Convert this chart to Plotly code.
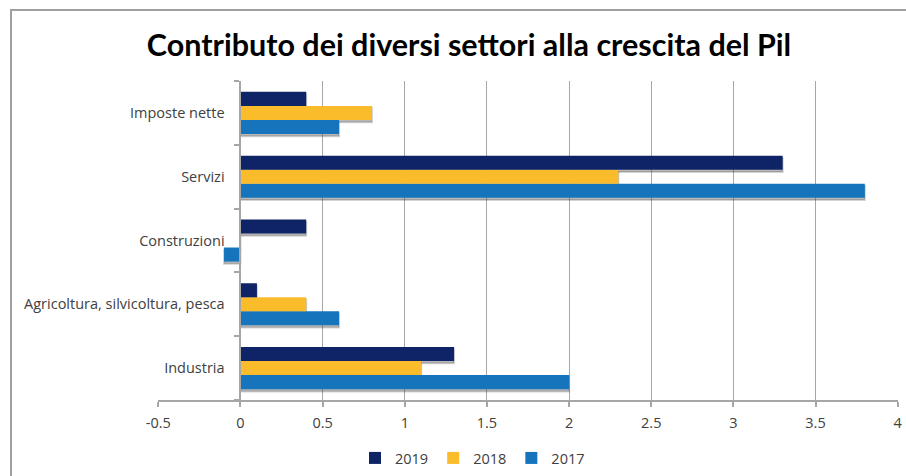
import plotly.graph_objects as go

# =========================
# DATA
# =========================
CATEGORIES = [
    "Industria",
    "Agricoltura, silvicoltura, pesca",
    "Construzioni",
    "Servizi",
    "Imposte nette",
]

YEARS = ["2017", "2018", "2019"]

VAL_2017 = [2.0, 0.6, -0.1, 3.8, 0.6]
VAL_2018 = [1.1, 0.4, 0.0, 2.3, 0.8]
VAL_2019 = [1.3, 0.1, 0.4, 3.3, 0.4]

X_TICKS = [-0.5, 0, 0.5, 1, 1.5, 2, 2.5, 3, 3.5, 4]
X_TICK_TEXT = ["-0.5", "0", "0.5", "1", "1.5", "2", "2.5", "3", "3.5", "4"]

COLORS = {"2019": "#0f2466", "2018": "#fbbc2b", "2017": "#1574bb"}

# posizione delle barre dentro ogni categoria (dal basso verso l'alto)
BAR_W = 0.22
OFFSETS = {"2017": -0.33, "2018": -0.11, "2019": 0.11}

FONT = "'Open Sans', sans-serif"
TITLE_FONT = "Lato, sans-serif"
GRID = "#a6a6a6"

SERIES = list(zip(YEARS, [VAL_2017, VAL_2018, VAL_2019]))

W, H = 906, 476
ML, MR, MT, MB = 158, 8, 81, 76

# =========================
# FIGURE
# =========================
fig = go.Figure()

# ombre delle barre
for year, vals in SERIES:
    fig.add_trace(go.Bar(
        y=CATEGORIES,
        x=vals,
        orientation="h",
        width=BAR_W,
        offset=OFFSETS[year] - 0.035,
        marker=dict(color="rgba(80,80,80,0.4)",
                    line=dict(width=2, color="rgba(80,80,80,0.25)")),
        showlegend=False,
        hoverinfo="skip",
    ))

for year, vals in SERIES:
    fig.add_trace(go.Bar(
        y=CATEGORIES,
        x=vals,
        name=year,
        orientation="h",
        width=BAR_W,
        offset=OFFSETS[year],
        marker=dict(color=COLORS[year], line=dict(width=0)),
    ))

fig.update_layout(
    width=W,
    height=H,
    margin=dict(l=ML, r=MR, t=MT, b=MB, autoexpand=False),
    paper_bgcolor="white",
    plot_bgcolor="white",
    barmode="overlay",
    font=dict(family=FONT, size=14.5, color="#404040"),
    title=dict(
        text="<b>Contributo dei diversi settori alla crescita del Pil</b>",
        font=dict(family=TITLE_FONT, size=30.5, color="black"),
        x=469 / W,
        xanchor="center",
        y=1 - 45 / H,
        yanchor="middle",
    ),
    legend=dict(
        orientation="h",
        traceorder="reversed",
        x=0.425,
        xanchor="center",
        y=-(458 - 400) / 319,
        yanchor="middle",
        font=dict(size=14.5, color="#404040"),
        itemwidth=30,
    ),
    showlegend=True,
)

fig.update_xaxes(
    range=[-0.502, 4.002],
    tickvals=X_TICKS,
    ticktext=X_TICK_TEXT,
    showgrid=True,
    gridcolor=GRID,
    gridwidth=1,
    zeroline=False,
    showline=True,
    linecolor=GRID,
    linewidth=2,
    ticks="outside",
    ticklen=5,
    tickcolor=GRID,
    tickwidth=2,
    ticklabelstandoff=4,
    ticklabeloverflow="allow",
    automargin=False,
)

fig.update_yaxes(
    type="category",
    categoryorder="array",
    categoryarray=CATEGORIES,
    range=[-0.5, 4.5],
    anchor="free",
    position=0.502 / 4.504,
    showline=True,
    linecolor=GRID,
    linewidth=2,
    ticks="outside",
    tickson="boundaries",
    ticklen=5,
    tickcolor=GRID,
    tickwidth=2,
    showgrid=False,
    ticklabelstandoff=12,
    automargin=False,
)

# bordo del grafico (stile Excel)
fig.add_shape(
    type="rect",
    xref="paper", yref="paper",
    x0=(11 - ML) / 740, x1=1.05,
    y0=-0.3, y1=1 + 71 / 319,
    line=dict(color="#a0a0a0", width=2),
    fillcolor="rgba(0,0,0,0)",
    layer="below",
)

# niente margine della pagina: la figura parte da (0, 0)
fig.write_html(
    "out.html",
    config={"displayModeBar": False},
    post_script="document.body.style.margin='0';document.body.style.overflow='hidden';",
)
